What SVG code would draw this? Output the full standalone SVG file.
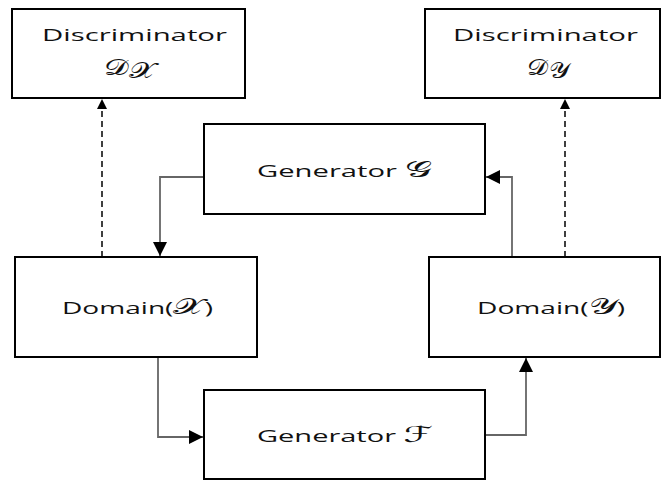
<svg xmlns="http://www.w3.org/2000/svg" width="662" height="481" viewBox="0 0 662 481">
<defs>
<marker id="ah" viewBox="0 0 10 10" refX="10" refY="5" markerWidth="10" markerHeight="10" markerUnits="userSpaceOnUse" orient="auto">
<path d="M0,0 L10,5 L0,10 z" fill="#000"/>
</marker>
<marker id="ahs" viewBox="0 0 10 10" refX="10" refY="5" markerWidth="14" markerHeight="14" markerUnits="userSpaceOnUse" orient="auto">
<path d="M0,0 L10,5 L0,10 z" fill="#000"/>
</marker>
</defs>
<style>
.box{fill:#fff;stroke:#000;stroke-width:2}
.t{font-family:"Open Sans","DejaVu Sans",sans-serif;font-size:17px;fill:#111}
.m{font-family:"DejaVu Serif","DejaVu Sans",serif;font-size:22px}
.solid{fill:none;stroke:#666;stroke-width:1.8}
.dash{fill:none;stroke:#000;stroke-width:1.5;stroke-dasharray:6 4}
</style>
<rect width="662" height="481" fill="#fff"/>
<g id="connectors">
<path class="dash" d="M102,257 V99" marker-end="url(#ah)"/>
<path class="dash" d="M565,257 V99" marker-end="url(#ah)"/>
<path class="solid" d="M204,177 H160 V256" marker-end="url(#ahs)"/>
<path class="solid" d="M512,257 V177 H486" marker-end="url(#ahs)"/>
<path class="solid" d="M158,357 V437 H203" marker-end="url(#ahs)"/>
<path class="solid" d="M485,435 H526 V358" marker-end="url(#ahs)"/>
</g>
<g id="discX">
<rect class="box" x="12" y="9" width="233" height="89"/>
<text class="t" x="42" y="41" textLength="185" lengthAdjust="spacingAndGlyphs">Discriminator</text>
<text class="t" x="104" y="75" textLength="52" lengthAdjust="spacingAndGlyphs"><tspan class="m" font-size="26">𝒟</tspan><tspan class="m" font-size="16" dy="3">𝒳</tspan></text>
</g>
<g id="discY">
<rect class="box" x="425" y="9" width="235" height="89"/>
<text class="t" x="453" y="41" textLength="185" lengthAdjust="spacingAndGlyphs">Discriminator</text>
<text class="t" x="527" y="75" textLength="42" lengthAdjust="spacingAndGlyphs"><tspan class="m" font-size="26">𝒟</tspan><tspan class="m" font-size="16" dy="3">𝒴</tspan></text>
</g>
<g id="genG">
<rect class="box" x="204" y="124" width="281" height="90"/>
<text class="t" x="257" y="177" textLength="175" lengthAdjust="spacingAndGlyphs">Generator <tspan class="m">𝒢</tspan></text>
</g>
<g id="domX">
<rect class="box" x="15" y="257" width="242" height="100"/>
<text class="t" x="62" y="314" textLength="151" lengthAdjust="spacingAndGlyphs">Domain(<tspan class="m">𝒳</tspan>)</text>
</g>
<g id="domY">
<rect class="box" x="429" y="257" width="231" height="100"/>
<text class="t" x="477" y="314" textLength="148" lengthAdjust="spacingAndGlyphs">Domain(<tspan class="m">𝒴</tspan>)</text>
</g>
<g id="genF">
<rect class="box" x="204" y="390" width="281" height="89"/>
<text class="t" x="257" y="442" textLength="176" lengthAdjust="spacingAndGlyphs">Generator <tspan class="m">ℱ</tspan></text>
</g>
</svg>
